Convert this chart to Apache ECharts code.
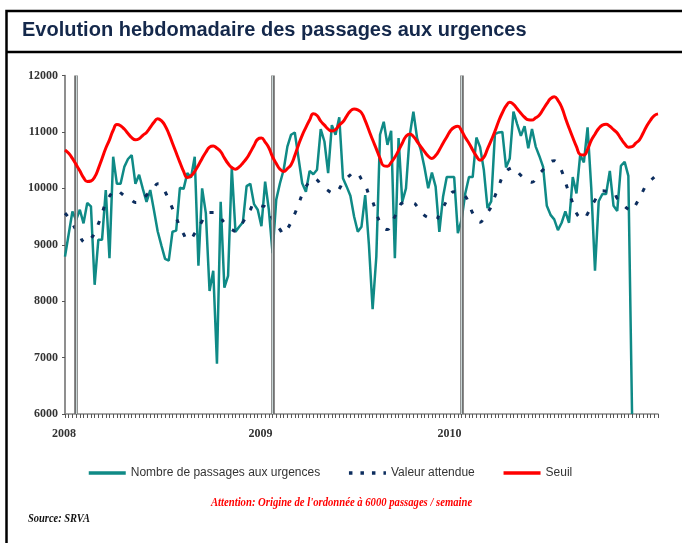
<!DOCTYPE html>
<html>
<head>
<meta charset="utf-8">
<script src="https://cdn.jsdelivr.net/npm/echarts@6/dist/echarts.min.js"></script>
<style>
  html, body { margin: 0; padding: 0; background: #fff; }
  #chart { width: 682px; height: 543px; }
</style>
</head>
<body>
<div id="chart"></div>
<script>
// weekly points, 161 weeks shown on the axis
const weeks = [];
for (let i = 0; i < 161; i++) weeks.push('S' + i);

const yearLabels = ['2008', '2009', '2010'];
const yearStartIdx = [3, 56, 107];
const yTicks = [6000, 7000, 8000, 9000, 10000, 11000, 12000];

// Nombre de passages aux urgences (last week incomplete -> drop)
const passages = [
  8790, 9190, 9590, 9440, 9620, 9380, 9740, 9680, 8290, 9090,
  9090, 9970, 8760, 10560, 10080, 10080, 10380, 10520, 10590, 10080,
  10240, 9990, 9760, 9970, 9610, 9240, 8990, 8750, 8720, 9230,
  9250, 10010, 9990, 10270, 10190, 10560, 8630, 10000, 9560, 8180,
  8540, 6890, 9760, 8240, 8450, 10360, 9230, 9320, 9400, 10040,
  10080, 9720, 9620, 9330, 10120, 9620, 8850, 9800, 10090, 10330,
  10740, 10950, 10990, 10540, 10090, 9940, 10310, 10250, 10330, 11050,
  10830, 10270, 11120, 10950, 11260, 10180, 10030, 9870, 9500, 9230,
  9320, 9880, 9000, 7860, 8790, 10950, 11180, 10770, 11020, 8760,
  10890, 9760, 10000, 10930, 11360, 10890, 10680, 10370, 10000, 10280,
  10030, 9230, 9850, 10200, 10200, 10200, 9205, 9440, 9910, 10200,
  10200, 10900, 10730, 10330, 9650, 9770, 10960, 10990, 11000, 10370,
  10530, 11360, 11140, 10930, 11100, 10710, 11050, 10740, 10570, 10380,
  9690, 9530, 9450, 9260, 9390, 9590, 9390, 10200, 9910, 10590,
  10460, 11080, 10000, 8540, 9770, 9900, 9900, 10310, 9690, 9600,
  10400, 10470, 10220, 6000
];

// Valeur attendue
const attendue = [
  9560, 9480, 9370, 9265, 9160, 9050, 9030, 9110, 9205, 9370,
  9560, 9740, 9860, 9940, 9970, 9920, 9870, 9830, 9790, 9750,
  9760, 9810, 9880, 9940, 10010, 10080, 10060, 9940, 9800, 9640,
  9480, 9320, 9190, 9090, 9110, 9200, 9300, 9420, 9540, 9570,
  9570, 9560, 9480, 9390, 9320, 9270, 9240, 9300, 9400, 9510,
  9620, 9720, 9710, 9690, 9670, 9570, 9460, 9360, 9270, 9190,
  9280, 9400, 9550, 9720, 9890, 10030, 10120, 10180, 10150, 10070,
  10010, 9960, 9920, 9910, 9990, 10110, 10180, 10240, 10290, 10260,
  10160, 10060, 9890, 9765, 9560, 9400, 9300, 9270, 9380, 9500,
  9640, 9740, 9750, 9745, 9740, 9680, 9590, 9520, 9480, 9450,
  9440, 9540, 9660, 9780, 9900, 9940, 9920, 9890, 9860, 9720,
  9560, 9460, 9400, 9470, 9570, 9680, 9860, 10030, 10200, 10300,
  10350, 10370, 10300, 10230, 10180, 10140, 10110, 10160, 10260, 10330,
  10410, 10470, 10490, 10420, 10310, 10110, 9920, 9740, 9560, 9480,
  9460, 9550, 9680, 9790, 9900, 9955, 9950, 9945, 9930, 9820,
  9740, 9680, 9630, 9605, 9710, 9830, 9960, 10080, 10140, 10200,
  10260
];

// Seuil
const seuil = [
  10680, 10620, 10530, 10420, 10310, 10190, 10120, 10130, 10200, 10350,
  10530, 10710, 10860, 11030, 11130, 11110, 11050, 10970, 10900, 10860,
  10880, 10940, 10990, 11080, 11170, 11235, 11200, 11110, 10970, 10800,
  10630, 10460, 10300, 10190, 10220, 10300, 10410, 10530, 10640, 10730,
  10750, 10710, 10650, 10540, 10440, 10370, 10340, 10380, 10450, 10530,
  10640, 10760, 10870, 10890, 10820, 10720, 10560, 10440, 10340, 10300,
  10350, 10420, 10580, 10770, 10940, 11080, 11210, 11320, 11290, 11190,
  11120, 11050, 11015, 11040, 11120, 11180, 11280, 11370, 11405, 11390,
  11340, 11200, 11030, 10860, 10700, 10530, 10400, 10390, 10460, 10550,
  10670, 10800, 10920, 10965, 10920, 10830, 10740, 10650, 10570, 10530,
  10580, 10680, 10800, 10910, 11020, 11080, 11100, 11020, 10900, 10800,
  10680, 10570, 10500, 10550, 10700, 10850, 11010, 11190, 11340, 11460,
  11525, 11490, 11410, 11330, 11260, 11215, 11210, 11250, 11300, 11400,
  11500, 11590, 11625, 11560, 11440, 11250, 11070, 10900, 10740, 10600,
  10590, 10690, 10850, 10960, 11060, 11120, 11135, 11100, 11040, 10980,
  10880, 10790, 10730, 10740, 10800, 10860, 10980, 11110, 11210, 11290,
  11320
];

const chartDom = document.getElementById('chart');
const myChart = echarts.init(chartDom);

const yearLineData = yearStartIdx.map(i => ({ xAxis: weeks[i] }));

const option = {
  animation: false,
  backgroundColor: '#fff',
  grid: { left: 65, right: 24, top: 75.5, bottom: 129 },
  legend: {
    left: 87,
    top: 467,
    padding: 0,
    itemWidth: 37,
    itemHeight: 14,
    itemGap: 27,
    itemStyle: { opacity: 0 },
    textStyle: { fontFamily: 'Liberation Sans', fontSize: 12, color: '#333' },
    data: [
      { name: 'Nombre de passages aux urgences', lineStyle: { width: 3.5 } },
      { name: 'Valeur attendue', lineStyle: { type: [3.5, 8], width: 3.5 } },
      { name: 'Seuil', lineStyle: { width: 3.5 } }
    ]
  },
  xAxis: {
    type: 'category',
    data: weeks,
    boundaryGap: false,
    axisLine: { lineStyle: { color: '#8a8a8a', width: 1.5 } },
    axisTick: { interval: 0, length: 4, lineStyle: { color: '#555', width: 1 } },
    axisLabel: {
      interval: 0,
      align: 'right',
      margin: 14,
      fontFamily: 'Liberation Serif',
      fontWeight: 'bold',
      fontSize: 12,
      color: '#333',
      formatter: function (v, i) {
        const k = yearStartIdx.indexOf(i);
        return k >= 0 ? yearLabels[k] : '';
      }
    },
    splitLine: { show: false }
  },
  yAxis: {
    type: 'value',
    min: yTicks[0],
    max: yTicks[yTicks.length - 1],
    interval: 1000,
    axisLine: { show: true, lineStyle: { color: '#6a6a6a', width: 1.5 } },
    axisTick: { show: true, length: 3, lineStyle: { color: '#555' } },
    axisLabel: {
      margin: 7,
      fontFamily: 'Liberation Serif',
      fontWeight: 'bold',
      fontSize: 12,
      color: '#333',
      formatter: function (v) { return String(v); }
    },
    splitLine: { show: false }
  },
  series: [
    {
      name: 'Nombre de passages aux urgences',
      type: 'line',
      data: passages,
      symbol: 'none',
      z: 3,
      lineStyle: { color: '#0f8a86', width: 2.5 },
      itemStyle: { color: '#0f8a86' },
      markLine: {
        silent: true,
        symbol: 'none',
        label: { show: false },
        lineStyle: { color: '#666', width: 3.5, type: 'solid' },
        data: yearLineData
      }
    },
    {
      name: 'Valeur attendue',
      type: 'line',
      data: attendue,
      symbol: 'none',
      smooth: true,
      z: 4,
      lineStyle: { color: '#0c2d5e', width: 3, type: [4, 11] },
      itemStyle: { color: '#0c2d5e' },
      markLine: {
        silent: true,
        symbol: 'none',
        label: { show: false },
        lineStyle: { color: '#c9d6d6', width: 1.2, type: 'solid' },
        data: yearLineData
      }
    },
    {
      name: 'Seuil',
      type: 'line',
      data: seuil,
      symbol: 'none',
      smooth: true,
      z: 5,
      lineStyle: { color: '#ff0000', width: 3 },
      itemStyle: { color: '#ff0000' }
    }
  ],
  graphic: [
    {
      type: 'rect',
      shape: { x: 6.5, y: 11, width: 720, height: 600 },
      style: { fill: 'none', stroke: '#000', lineWidth: 2.5 },
      silent: true
    },
    {
      type: 'line',
      shape: { x1: 6.5, y1: 52, x2: 700, y2: 52 },
      style: { stroke: '#000', lineWidth: 2.5 },
      silent: true
    },
    {
      type: 'text',
      x: 22,
      y: 30,
      style: {
        text: 'Evolution hebdomadaire des passages aux urgences',
        font: 'bold 20px "Liberation Sans", Arial, sans-serif',
        fill: '#14284b',
        textVerticalAlign: 'middle'
      }
    },
    {
      type: 'text',
      x: 211,
      y: 503,
      scaleX: 0.82,
      style: {
        text: "Attention: Origine de l'ordonnée à 6000 passages / semaine",
        font: 'italic bold 13px "Liberation Serif", serif',
        fill: '#ff0000',
        textVerticalAlign: 'middle'
      }
    },
    {
      type: 'text',
      x: 28,
      y: 519,
      scaleX: 0.87,
      style: {
        text: 'Source: SRVA',
        font: 'italic bold 12px "Liberation Serif", serif',
        fill: '#111',
        textVerticalAlign: 'middle'
      }
    }
  ]
};

option && myChart.setOption(option);
window.addEventListener('resize', function () {
  myChart.resize();
});
</script>
</body>
</html>
